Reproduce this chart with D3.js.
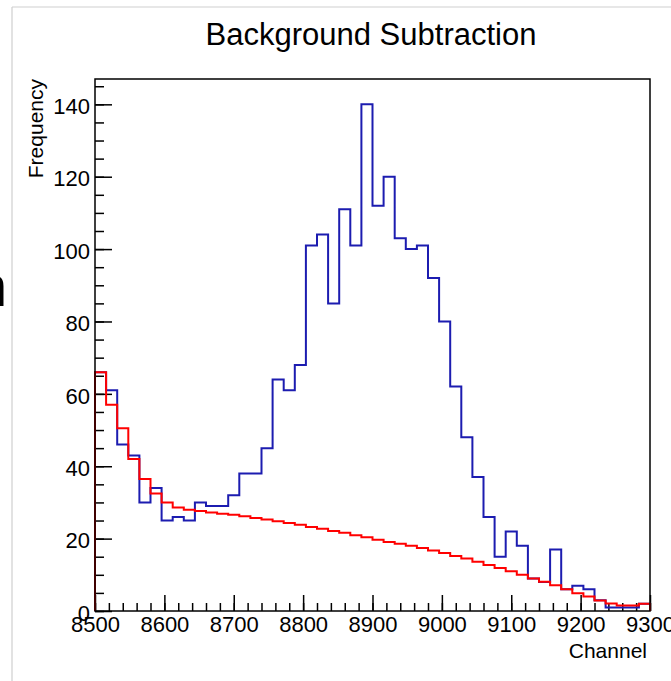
<!DOCTYPE html>
<html>
<head>
<meta charset="utf-8">
<script src="https://cdn.jsdelivr.net/npm/d3@7"></script>
<style>
  body { margin: 0; background: #fff; }
  svg text { font-family: "Liberation Sans", Arial, Helvetica, sans-serif; fill: #000; }
</style>
</head>
<body>
<div id="chart"></div>
<script>
// 50 bins of 16 channels, 8500..9300
var binStart = 8500, binWidth = 16;
var dataCounts = [66, 61, 46, 43, 30, 34, 25, 26, 25, 30,
                  29, 29, 32, 38, 38, 45, 64, 61, 68, 101,
                  104, 85, 111, 101, 140, 112, 120, 103, 100, 101,
                  92, 80, 62, 48, 37, 26, 15, 22, 18, 9,
                  8, 17, 6, 7, 6, 3, 1, 1, 1, 2];
var background = [66, 57, 50.5, 42, 36.5, 32.5, 30, 28.6, 28, 27.6,
                  27.2, 26.9, 26.6, 26.2, 25.7, 25.3, 24.8, 24.3, 23.8, 23.2,
                  22.7, 22.1, 21.6, 20.9, 20.4, 19.7, 19.1, 18.6, 18.0, 17.4,
                  16.7, 16.0, 15.2, 14.5, 13.6, 12.7, 11.9, 11.0, 10.0, 9.0,
                  8.1, 7.1, 6.0, 4.9, 4.0, 2.9, 2.1, 1.5, 1.5, 2.0];
var xMajor = [8500, 8600, 8700, 8800, 8900, 9000, 9100, 9200, 9300];
var yMajor = [0, 20, 40, 60, 80, 100, 120, 140];

var w = 671, h = 681;
var padL = 95, padR = 650, padT = 79, padB = 611;

var svg = d3.select("#chart").append("svg")
            .attr("width", w)
            .attr("height", h);

// screenshot border + clipped letter at the left
svg.append("line").attr("x1", 12).attr("x2", w).attr("y1", 7).attr("y2", 7)
   .attr("stroke", "#cfcfcf").attr("stroke-width", 1.2);
svg.append("line").attr("x1", 12).attr("x2", 12).attr("y1", 7).attr("y2", h)
   .attr("stroke", "#cfcfcf").attr("stroke-width", 1.2);
svg.append("text").attr("x", -25).attr("y", 306)
   .attr("font-size", "58px").text("n");

var xScale = d3.scaleLinear().domain([8500, 9300]).range([padL, padR]);
var yScale = d3.scaleLinear().domain([0, 147]).range([padB, padT]);

// x axis, ticks inside the frame
svg.append("g")
   .attr("transform", "translate(0," + padB + ")")
   .call(d3.axisBottom(xScale).tickValues(d3.range(8500, 9301, 20))
           .tickSize(-8).tickFormat(""))
   .call(g => g.select(".domain").remove());
var xg = svg.append("g")
   .attr("transform", "translate(0," + padB + ")")
   .call(d3.axisBottom(xScale).tickValues(xMajor).tickSize(-16)
           .tickPadding(5).tickFormat(d3.format("d")));
xg.select(".domain").remove();
xg.selectAll("text").attr("font-size", "22px").attr("font-family", null);

// y axis
svg.append("g")
   .attr("transform", "translate(" + padL + ",0)")
   .call(d3.axisLeft(yScale).tickValues(d3.range(0, 146, 5))
           .tickSize(-9).tickFormat(""))
   .call(g => g.select(".domain").remove());
var yg = svg.append("g")
   .attr("transform", "translate(" + padL + ",0)")
   .call(d3.axisLeft(yScale).tickValues(yMajor).tickSize(-17)
           .tickPadding(5).tickFormat(d3.format("d")));
yg.select(".domain").remove();
yg.selectAll("text").attr("font-size", "22px").attr("font-family", null).attr("dy", "0.42em");

svg.selectAll(".tick line").attr("stroke", "#000").attr("stroke-width", 1.5);

// step outline of a histogram
function stepPath(vals) {
  var p = d3.path();
  p.moveTo(xScale(binStart), yScale(0));
  vals.forEach(function(v, i) {
    var x0 = xScale(binStart + i * binWidth), x1 = xScale(binStart + (i + 1) * binWidth);
    p.lineTo(x0, yScale(v));
    p.lineTo(x1, yScale(v));
  });
  p.lineTo(xScale(binStart + vals.length * binWidth), yScale(0));
  return p.toString();
}

svg.append("path").attr("d", stepPath(dataCounts))
   .attr("fill", "none").attr("stroke", "#1c1cb0").attr("stroke-width", 2);
svg.append("path").attr("d", stepPath(background))
   .attr("fill", "none").attr("stroke", "#ff0000").attr("stroke-width", 2);

// frame
svg.append("rect").attr("x", padL).attr("y", padT)
   .attr("width", padR - padL).attr("height", padB - padT)
   .attr("fill", "none").attr("stroke", "#000").attr("stroke-width", 1.5);

// titles
svg.append("text").attr("x", 371).attr("y", 45)
   .attr("text-anchor", "middle").attr("font-size", "31px")
   .text("Background Subtraction");
svg.append("text").attr("x", 647).attr("y", 658)
   .attr("text-anchor", "end").attr("font-size", "21px")
   .text("Channel");
svg.append("text")
   .attr("transform", "translate(43,79) rotate(-90)")
   .attr("text-anchor", "end").attr("font-size", "21px")
   .text("Frequency");
</script>
</body>
</html>
